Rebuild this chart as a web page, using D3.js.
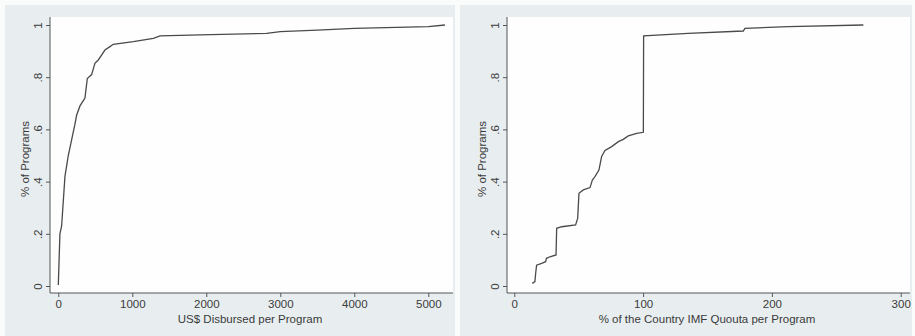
<!DOCTYPE html>
<html>
<head>
<meta charset="utf-8">
<script src="https://cdn.jsdelivr.net/npm/d3@7"></script>
<style>
  body { margin: 0; background: #fafcfc; }
  text { font-family: "Liberation Sans", Arial, sans-serif; fill: #3a3a3a; }
</style>
</head>
<body>
<svg width="915" height="336"></svg>
<script>
// left panel: cumulative share of programs by US$ disbursed
const disbursed = [0, 22, 45, 90, 135, 180, 225, 248, 293, 338, 360, 392, 450, 495, 540, 585, 630, 698, 743,
  1014, 1284, 1374, 1914, 2815, 3000, 3500, 4000, 5000, 5225];
const disbursedShare = [0.004, 0.2, 0.23, 0.42, 0.5, 0.56, 0.62, 0.655, 0.69, 0.71, 0.72, 0.795, 0.81, 0.853, 0.866, 0.885, 0.904, 0.917, 0.926,
  0.936, 0.949, 0.958, 0.962, 0.968, 0.975, 0.98, 0.987, 0.994, 1.0];

// right panel: cumulative share of programs by % of IMF quota
const quota = [14, 16, 16.6, 17.3, 21.2, 24.3, 25, 27.7, 32.4, 32.9, 36.8, 47.6, 49.2, 50.2, 53.6, 58.8, 60.6, 62.6, 65.7,
  67.8, 70.4, 75.6, 80.8, 84.6, 88.5, 95, 100.2, 100.4, 135, 177.8, 179, 212.8, 271];
const quotaShare = [0.01, 0.017, 0.049, 0.08, 0.087, 0.093, 0.106, 0.112, 0.119, 0.221, 0.227, 0.234, 0.259, 0.355, 0.368, 0.377, 0.406, 0.419, 0.444,
  0.496, 0.519, 0.534, 0.553, 0.562, 0.575, 0.585, 0.589, 0.958, 0.968, 0.977, 0.987, 0.994, 1.0];

const leftTicks = [0, 1000, 2000, 3000, 4000, 5000];
const rightTicks = [0, 100, 200, 300];
const yTicks = [0, 0.2, 0.4, 0.6, 0.8, 1];

const svg = d3.select("svg");

const panels = [
  { xs: disbursed, ys: disbursedShare, ticks: leftTicks, domain: [0, 5000], titleX: 250,
    px: 5, pw: 450, left: 50, right: 453, range: [58.3, 428.3], title: "US$ Disbursed per Program" },
  { xs: quota, ys: quotaShare, ticks: rightTicks, domain: [0, 300], titleX: 707,
    px: 460, pw: 452, left: 507, right: 910, range: [514.3, 900.7], title: "% of the Country IMF Quouta per Program" }
];

const plotTop = 17, plotBottom = 293;
const y = d3.scaleLinear().domain([0, 1]).range([286, 25]);
const yFmt = d => d === 0 ? "0" : d === 1 ? "1" : String(d).replace(/^0/, "");

panels.forEach(p => {
  const x = d3.scaleLinear().domain(p.domain).range(p.range);
  const g = svg.append("g");

  g.append("rect").attr("x", p.px).attr("y", 5).attr("width", p.pw).attr("height", 331)
    .attr("fill", "#e8eef0");
  g.append("rect").attr("x", p.left).attr("y", plotTop).attr("width", p.right - p.left).attr("height", plotBottom - plotTop)
    .attr("fill", "#fefefe");

  // x axis
  const xa = g.append("g").attr("transform", `translate(0,${plotBottom})`)
    .call(d3.axisBottom(x).tickValues(p.ticks).tickFormat(d3.format("d")).tickSize(4).tickPadding(3));
  xa.select(".domain").remove();
  xa.selectAll("line").attr("stroke", "#555");
  xa.selectAll("text").style("font-size", "11.5px").attr("fill", "#3a3a3a");
  g.append("line").attr("x1", p.left).attr("x2", p.right).attr("y1", plotBottom).attr("y2", plotBottom)
    .attr("stroke", "#555").attr("stroke-width", 1);

  // y axis, Stata-style vertical tick labels
  const ya = g.append("g").attr("transform", `translate(${p.left},0)`)
    .call(d3.axisLeft(y).tickValues(yTicks).tickFormat(yFmt).tickSize(4));
  ya.select(".domain").remove();
  ya.selectAll("line").attr("stroke", "#555");
  ya.selectAll("text")
    .style("font-size", "11.5px").attr("fill", "#3a3a3a")
    .attr("x", 0).attr("y", 0).attr("dy", 0)
    .attr("text-anchor", "middle")
    .attr("transform", "translate(-8,0) rotate(-90)");
  g.append("line").attr("x1", p.left).attr("x2", p.left).attr("y1", plotTop).attr("y2", plotBottom)
    .attr("stroke", "#555").attr("stroke-width", 1);

  // titles
  g.append("text").attr("x", p.titleX).attr("y", 323)
    .attr("text-anchor", "middle").style("font-size", "11.5px").text(p.title);
  g.append("text").attr("transform", `translate(${p.left - 21},${(plotTop + plotBottom) / 2 + 4}) rotate(-90)`)
    .attr("text-anchor", "middle").style("font-size", "11.5px").text("% of Programs");

  // cumulative curve
  const pts = p.xs.map((v, i) => [v, p.ys[i]]);
  g.append("path").datum(pts)
    .attr("fill", "none").attr("stroke", "#4a4a4a").attr("stroke-width", 1.3)
    .attr("d", d3.line().x(d => x(d[0])).y(d => y(d[1])));
});
</script>
</body>
</html>
